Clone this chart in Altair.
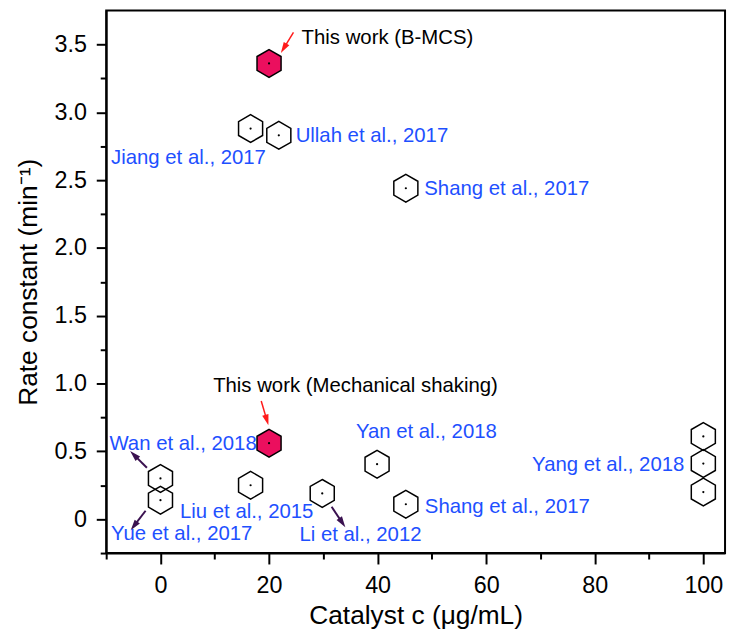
import math
import altair as alt
import pandas as pd

# ---------------- data ----------------
pt_x = [20, 16.6, 21.8, 45.2, 20, 0, 0, 16.6, 29.8, 39.9, 45.2, 100, 100, 100]
pt_y = [3.36, 2.88, 2.83, 2.44, 0.56, 0.30, 0.14, 0.25, 0.19, 0.405, 0.11, 0.61, 0.41, 0.20]
pt_this = [True, False, False, False, True, False, False, False, False, False, False, False, False, False]

lab_text = ["This work (B-MCS)", "Jiang et al., 2017", "Ullah et al., 2017", "Shang et al., 2017",
            "This work (Mechanical shaking)", "Wan et al., 2018", "Yue et al., 2017",
            "Liu et al., 2015", "Li et al., 2012", "Yan et al., 2018", "Shang et al., 2017",
            "Yang et al., 2018"]
lab_x = [26.0, -9.1, 24.9, 48.6, 9.7, -9.4, -9.1, 3.6, 25.6, 36.0, 48.7, 96.5]
lab_y = [3.545, 2.66, 2.826, 2.436, 0.978, 0.554, -0.111, 0.055, -0.116, 0.640, 0.091, 0.40]
lab_black = [True, False, False, False, True, False, False, False, False, False, False, False]
lab_right = [False] * 11 + [True]

arr_tx = [24.5, 18.56, -2.5, -2.74, 31.53]
arr_ty = [3.589, 0.871, 0.379, 0.062, 0.091]
arr_hx = [22.7, 19.6, -4.88, -4.88, 33.49]
arr_hy = [3.472, 0.730, 0.474, -0.050, -0.026]
arr_red = [True, True, False, False, False]

x_major = [0, 20, 40, 60, 80, 100]
x_minor = [-10, 10, 30, 50, 70, 90]
y_major = [0, 0.5, 1.0, 1.5, 2.0, 2.5, 3.0, 3.5]
y_minor = [-0.25, 0.25, 0.75, 1.25, 1.75, 2.25, 2.75, 3.25]

# ---------------- layout ----------------
W, H = 624, 547
XMIN, XMAX = -10, 104
YMIN, YMAX = -0.25, 3.75
FONT = "Liberation Sans"
BLUE = "#1E50FF"
CRIMSON = "#EB0F5E"
PURPLE = "#3A1150"
HEX = "M0,-1L0.866,-0.5L0.866,0.5L0,1L-0.866,0.5L-0.866,-0.5Z"
HEAD = "M0,-1L0.6,1L-0.6,1Z"

pts = pd.DataFrame({"x": pt_x, "y": pt_y,
                    "fill": [CRIMSON if t else "transparent" for t in pt_this]})
labs = pd.DataFrame({"x": lab_x, "y": lab_y, "t": lab_text,
                     "c": ["black" if b else BLUE for b in lab_black],
                     "right": lab_right})
sx = W / (XMAX - XMIN)
sy = H / (YMAX - YMIN)
angles = []
for tx, ty, hx, hy in zip(arr_tx, arr_ty, arr_hx, arr_hy):
    dx = (hx - tx) * sx
    dy = -(hy - ty) * sy
    angles.append(math.degrees(math.atan2(dx, -dy)) % 360)
arrs = pd.DataFrame({"tx": arr_tx, "ty": arr_ty, "hx": arr_hx, "hy": arr_hy,
                     "c": ["#FF1A1A" if r else PURPLE for r in arr_red],
                     "w": [1.5 if r else 2.0 for r in arr_red],
                     "ang": angles})

xscale = alt.Scale(domain=[XMIN, XMAX], nice=False, zero=False)
yscale = alt.Scale(domain=[YMIN, YMAX], nice=False, zero=False)

x_axis = alt.Axis(
    values=x_major, orient="bottom", tickSize=11, labelPadding=10,
    grid=False, title="Catalyst c (μg/mL)", labelOverlap=False, titlePadding=6,
    labelFlush=False,
)
y_axis = alt.Axis(
    values=y_major, orient="left", tickSize=10, labelPadding=10,
    labelExpr="datum.value == 0 ? '0' : format(datum.value, '.1f')",
    grid=False, title="Rate constant (min⁻¹)", labelOverlap=False, titlePadding=12,
    labelFlush=False,
)
x_axis_minor = alt.Axis(values=x_minor, orient="bottom", tickSize=6, labels=False,
                        domain=False, grid=False, title=None)
y_axis_minor = alt.Axis(values=y_minor, orient="left", tickSize=6, labels=False,
                        domain=False, grid=False, title=None)

base = alt.Chart(pts)

hexes = base.mark_point(shape=HEX, size=784, strokeWidth=1.5, stroke="black", opacity=1).encode(
    x=alt.X("x:Q", scale=xscale, axis=x_axis),
    y=alt.Y("y:Q", scale=yscale, axis=y_axis),
    fill=alt.Fill("fill:N", scale=None),
)
dots = base.mark_point(shape="circle", size=5, filled=True, color="black", opacity=1).encode(
    x=alt.X("x:Q", scale=xscale, axis=x_axis_minor),
    y=alt.Y("y:Q", scale=yscale, axis=y_axis_minor))

shafts = alt.Chart(arrs).mark_rule().encode(
    x=alt.X("tx:Q", axis=None), y=alt.Y("ty:Q", axis=None), x2="hx:Q", y2="hy:Q",
    color=alt.Color("c:N", scale=None),
    strokeWidth=alt.StrokeWidth("w:Q", scale=None))
heads = alt.Chart(arrs).mark_point(shape=HEAD, size=120, filled=True, opacity=1).encode(
    x=alt.X("hx:Q", axis=None), y=alt.Y("hy:Q", axis=None),
    angle=alt.Angle("ang:Q", scale=None),
    color=alt.Color("c:N", scale=None))

txt_l = alt.Chart(labs).transform_filter("!datum.right").mark_text(
    align="left", baseline="middle", font=FONT, fontSize=20.5).encode(
    x=alt.X("x:Q", axis=None), y=alt.Y("y:Q", axis=None), text="t:N",
    color=alt.Color("c:N", scale=None))
txt_r = alt.Chart(labs).transform_filter("datum.right").mark_text(
    align="right", baseline="middle", font=FONT, fontSize=20.5).encode(
    x=alt.X("x:Q", axis=None), y=alt.Y("y:Q", axis=None), text="t:N",
    color=alt.Color("c:N", scale=None))

chart = alt.layer(hexes, dots, shafts, heads, txt_l, txt_r).resolve_axis(
    x="independent", y="independent"
).properties(
    width=W, height=H,
    autosize=alt.AutoSizeParams(type="none"),
    padding={"left": 99, "top": 0, "right": 5, "bottom": 77},
).configure_view(
    stroke="black", strokeWidth=2
).configure_axis(
    domainColor="black", domainWidth=2, tickColor="black", tickWidth=2,
    labelFont=FONT, labelFontSize=23.5, labelColor="black",
    titleFont=FONT, titleFontSize=26.5, titleColor="black", titleFontWeight="normal",
)

chart.save("out.html", embed_options={"renderer": "svg", "actions": False})
